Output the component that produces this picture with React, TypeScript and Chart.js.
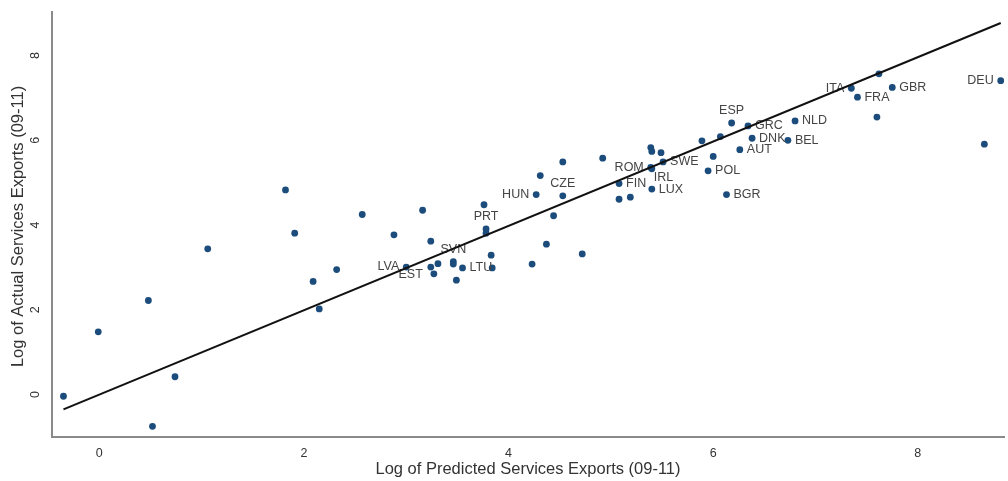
import React, { useEffect, useRef } from "react";
import { Chart, registerables } from "chart.js";

Chart.register(...registerables);

// Log of predicted services exports (x) and log of actual services exports (y)
const predicted = [
  -0.35, -0.01, 0.48, 0.52, 0.74, 1.06, 1.82, 1.91, 2.09, 2.15,
  2.32, 2.57, 2.88, 3.16, 3.24, 3.0, 3.24, 3.27, 3.31, 3.46,
  3.46, 3.55, 3.49, 3.83, 3.84, 3.78, 3.78, 3.76, 4.27, 4.53,
  4.31, 4.53, 4.44, 4.37, 4.23, 4.72, 4.92, 5.39, 5.4, 5.08,
  5.08, 5.19, 5.4, 5.39, 5.4, 5.49, 5.51, 5.89, 6.07, 6.0,
  5.95, 6.13, 6.18, 6.34, 6.38, 6.26, 6.8, 6.73, 7.35, 7.41,
  7.62, 7.75, 7.6, 8.81, 8.65,
];
const actual = [
  -0.04, 1.48, 2.22, -0.75, 0.42, 3.44, 4.83, 3.81, 2.67, 2.02,
  2.95, 4.25, 3.77, 4.35, 3.62, 3.01, 3.01, 2.85, 3.09, 3.14,
  3.08, 2.99, 2.7, 3.29, 2.99, 3.91, 3.81, 4.48, 4.72, 4.69,
  5.17, 5.49, 4.22, 3.55, 3.08, 3.32, 5.58, 5.36, 5.33, 4.98,
  4.61, 4.66, 4.85, 5.83, 5.74, 5.71, 5.49, 5.99, 6.09, 5.62,
  5.28, 4.72, 6.41, 6.34, 6.05, 5.78, 6.46, 6.0, 7.23, 7.02,
  7.57, 7.25, 6.55, 7.41, 5.91,
];
const countryLabels = [
  "", "", "", "", "", "", "", "", "", "",
  "", "", "", "", "", "LVA", "EST", "", "", "SVN",
  "", "LTU", "", "", "", "PRT", "", "", "HUN", "CZE",
  "", "", "", "", "", "", "", "ROM", "IRL", "FIN",
  "", "", "LUX", "", "", "", "SWE", "", "", "",
  "POL", "BGR", "ESP", "GRC", "DNK", "AUT", "NLD", "BEL", "ITA", "FRA",
  "", "GBR", "", "DEU", "",
];
// clock positions of the marker labels (3 = right, 9 = left, 12 = above ...)
const labelClock = [
  0, 0, 0, 0, 0, 0, 0, 0, 0, 0,
  0, 0, 0, 0, 0, 9, 8, 0, 0, 12,
  0, 3, 0, 0, 0, 12, 0, 0, 9, 12,
  0, 0, 0, 0, 0, 0, 0, 9, 4, 3,
  0, 0, 3, 0, 0, 0, 3, 0, 0, 0,
  3, 3, 12, 3, 3, 3, 3, 3, 9, 3,
  0, 3, 0, 9, 0,
];
// fitted line end points
const fitX = [-0.35, 8.81];
const fitY = [-0.35, 8.77];

const xTicks = [0, 2, 4, 6, 8];
const yTicks = [0, 2, 4, 6, 8];
const xTitle = "Log of Predicted Services Exports (09-11)";
const yTitle = "Log of Actual Services Exports (09-11)";

const FONT = "'Liberation Sans', Arial, Helvetica, sans-serif";

const labelPlugin = {
  id: "markerLabels",
  afterDatasetDraw(chart: any, args: any) {
    if (args.index !== 1) return;
    const ctx = chart.ctx;
    ctx.save();
    ctx.font = `12.5px ${FONT}`;
    ctx.fillStyle = "#444444";
    args.meta.data.forEach((pt: any, i: number) => {
      const text = countryLabels[i];
      if (!text) return;
      const pos = labelClock[i];
      let dx = 7, dy = 0, align: CanvasTextAlign = "left";
      if (pos === 9) { dx = -7; align = "right"; }
      else if (pos === 12) { dx = 0; dy = -12; align = "center"; }
      else if (pos === 4) { dx = 2; dy = 9; align = "left"; }
      else if (pos === 8) { dx = -8; dy = 8; align = "right"; }
      ctx.textAlign = align;
      ctx.textBaseline = "middle";
      ctx.fillText(text, pt.x + dx, pt.y + dy);
    });
    ctx.restore();
  },
};

const yAxisTextPlugin = {
  id: "yAxisText",
  afterDraw(chart: any) {
    const ctx = chart.ctx;
    const ys = chart.scales.y;
    const area = chart.chartArea;
    ctx.save();
    ctx.fillStyle = "#333333";
    ctx.textAlign = "center";
    ctx.textBaseline = "middle";
    ctx.font = `12.5px ${FONT}`;
    yTicks.forEach((v) => {
      const py = ys.getPixelForValue(v);
      ctx.save();
      ctx.translate(36, py);
      ctx.rotate(-Math.PI / 2);
      ctx.fillText(String(v), 0, 0);
      ctx.restore();
    });
    ctx.font = `16.5px ${FONT}`;
    ctx.save();
    ctx.translate(18.5, (area.top + area.bottom) / 2 + 2);
    ctx.rotate(-Math.PI / 2);
    ctx.fillText(yTitle, 0, 0);
    ctx.restore();
    ctx.restore();
  },
};

export default function App() {
  const canvasRef = useRef<HTMLCanvasElement | null>(null);

  useEffect(() => {
    if (!canvasRef.current) return;
    const points = predicted.map((x, i) => ({ x, y: actual[i] }));
    const fit = fitX.map((x, i) => ({ x, y: fitY[i] }));
    const chart = new Chart(canvasRef.current, {
      type: "scatter",
      data: {
        datasets: [
          {
            label: "Fitted values",
            data: fit,
            showLine: true,
            borderColor: "#111111",
            borderWidth: 2,
            pointRadius: 0,
            order: 0,
            clip: false,
          } as any,
          {
            label: "Countries",
            data: points,
            backgroundColor: "#1b4c7c",
            borderColor: "#1b4c7c",
            borderWidth: 0,
            pointRadius: 3.4,
            order: 1,
            clip: false,
          } as any,
        ],
      },
      options: {
        animation: false,
        responsive: false,
        maintainAspectRatio: false,
        layout: { padding: { top: 12, left: 0, right: 0, bottom: 0 } },
        plugins: {
          legend: { display: false },
          tooltip: { enabled: false },
        },
        scales: {
          x: {
            type: "linear",
            min: -0.462,
            max: 8.842,
            grid: { display: false, drawTicks: false },
            border: { display: true, color: "#8a8a8a", width: 2 },
            afterFit: (s: any) => { s.height = 44; },
            afterBuildTicks: (s: any) => { s.ticks = xTicks.map((v) => ({ value: v })); },
            ticks: {
              color: "#333333",
              font: { family: FONT, size: 12.5 },
              padding: 9,
              maxRotation: 0,
              autoSkip: false,
              includeBounds: false,
            },
            title: {
              display: true,
              text: xTitle,
              color: "#333333",
              font: { family: FONT, size: 16.5 },
              padding: { top: 0, bottom: 2 },
            },
          },
          y: {
            type: "linear",
            min: -1.002,
            max: 9.03,
            grid: { display: false, drawTicks: false },
            border: { display: true, color: "#8a8a8a", width: 2 },
            afterFit: (s: any) => { s.width = 52; },
            ticks: { display: false },
          },
        },
      } as any,
      plugins: [labelPlugin, yAxisTextPlugin],
    });
    return () => chart.destroy();
  }, []);

  return (
    <div style={{ position: "fixed", left: 0, top: 0, width: 1008, height: 481, background: "#ffffff" }}>
      <canvas ref={canvasRef} width={1008} height={481} style={{ display: "block", width: 1008, height: 481 }} />
    </div>
  );
}
